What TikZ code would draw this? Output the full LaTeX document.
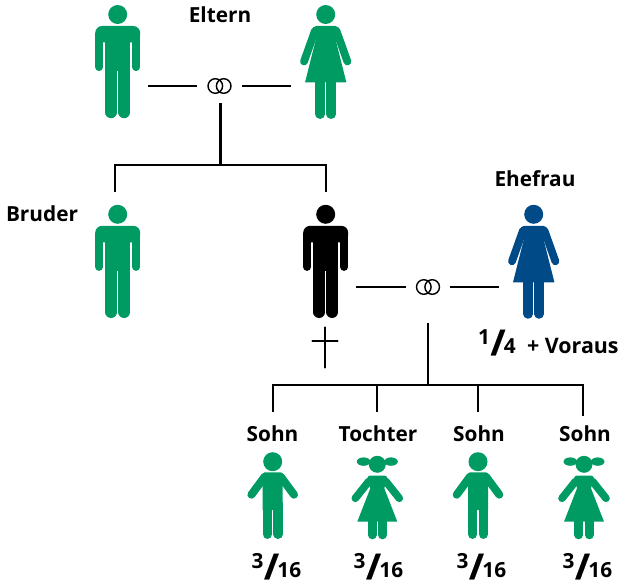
\documentclass[tikz,border=0pt]{standalone}
\usepackage{fontspec}
\setmainfont{Open Sans}[BoldFont={Open Sans Bold}]
\newfontfamily\slashfont{Open Sans}[FakeBold=0.5]
\definecolor{figgreen}{HTML}{009A63}
\definecolor{figblue}{HTML}{004A87}
\tikzset{
  head/.style={circle,draw=none,inner sep=0pt,minimum size=19pt,fill=#1},
  lbl/.style={font=\fontsize{20.8}{22}\selectfont\bfseries,inner sep=0pt,anchor=base,text=black},
  frac/.style={font=\fontsize{20.8}{22}\selectfont\bfseries,inner sep=0pt,anchor=base west,text=black},
  conn/.style={line width=2.3pt,black},
  crossline/.style={line width=2.3pt,black,line cap=round},
  ringline/.style={line width=1.4pt,black},
  rings/.style={inner sep=0pt,minimum width=44pt,minimum height=34pt},
  manfig/.pic={
    \fill[rounded corners=7pt] (-22.5,11.5) rectangle (22.5,28);
    \fill (-12.5,20) rectangle (12.5,56.5);
    \draw[line width=8pt,line cap=round] (-18.5,20) -- (-18.5,52.6);
    \draw[line width=8pt,line cap=round] (18.5,20) -- (18.5,52.6);
    \draw[line width=11.8pt,line cap=round] (-6.6,50) -- (-6.6,97.8);
    \draw[line width=11.8pt,line cap=round] (6.6,50) -- (6.6,97.8);
  },
  womanfig/.pic={
    \fill (-20.7,68) -- (-10,25.5) [rounded corners=5pt] -- (-14.5,11.5) -- (14.5,11.5) [sharp corners] -- (10,25.5) -- (20.7,68) -- cycle;
    \draw[line width=7.8pt,line cap=round] (-10.8,16.5) -- (-21.7,47);
    \draw[line width=7.8pt,line cap=round] (10.8,16.5) -- (21.7,47);
    \draw[line width=9.5pt,line cap=round] (-5.5,60) -- (-5.5,99.7);
    \draw[line width=9.5pt,line cap=round] (5.5,60) -- (5.5,99.7);
  },
  boyfig/.pic={
    \fill (-10,25) [rounded corners=3pt] -- (-10.5,10.6) -- (10.5,10.6) [sharp corners] -- (10,25) -- (10,48.5) -- (-10,48.5) -- cycle;
    \draw[line width=8pt,line cap=round] (-8,15) -- (-21.3,33);
    \draw[line width=8pt,line cap=round] (8,15) -- (21.3,33);
    \draw[line width=9.3pt,line cap=round] (-5.4,42) -- (-5.4,72.6);
    \draw[line width=9.3pt,line cap=round] (5.4,42) -- (5.4,72.6);
  },
  girlfig/.pic={
    \fill (-20,57.4) -- (-7,24) [rounded corners=3pt] -- (-10.5,11.4) -- (10.5,11.4) [sharp corners] -- (7,24) -- (20,57.4) -- cycle;
    \draw[line width=7.6pt,line cap=round] (-8.5,17) -- (-22,34);
    \draw[line width=7.6pt,line cap=round] (8.5,17) -- (22,34);
    \draw[line width=8.8pt,line cap=round] (-5.2,50) -- (-5.2,70.6);
    \draw[line width=8.8pt,line cap=round] (5.2,50) -- (5.2,70.6);
    \fill (-13.7,-2.7) ellipse [x radius=6.8pt,y radius=4.2pt];
    \fill (13.7,-2.7) ellipse [x radius=6.8pt,y radius=4.2pt];
  },
  ringpic/.pic={
    \draw[ringline] (-4.2,0) circle [radius=7.3pt];
    \draw[ringline] (4.2,0) circle [radius=7.3pt];
  },
}
\newcommand{\shr}[2]{\raisebox{9pt}{#1}\kern0.5pt{\slashfont\fontsize{36}{36}\selectfont\raisebox{-2pt}{/}}\kern-1.5pt #2}
\begin{document}
\begin{tikzpicture}[x=1pt,y=-1pt]
\useasboundingbox (0,0) rectangle (618,580);
% heads
\node[head=figgreen] (vater) at (117.7,14.5) {};
\node[head=figgreen] (mutter) at (325.7,14.5) {};
\node[head=figgreen] (bruder) at (117.7,214.3) {};
\node[head=black] (erblasser) at (325.7,214.3) {};
\node[head=figblue] (ehefrau) at (533.7,214.3) {};
\node[head=figgreen] (sohn1) at (272.7,461.7) {};
\node[head=figgreen,minimum size=17pt] (tochter1) at (377.3,464.3) {};
\node[head=figgreen] (sohn2) at (478,461.7) {};
\node[head=figgreen,minimum size=17pt] (tochter2) at (584,464.3) {};
% bodies
\pic[color=figgreen] at (vater) {manfig};
\pic[color=figgreen] at (mutter) {womanfig};
\pic[color=figgreen] at (bruder) {manfig};
\pic[color=black] at (erblasser) {manfig};
\pic[color=figblue] at (ehefrau) {womanfig};
\pic[color=figgreen] at (sohn1) {boyfig};
\pic[color=figgreen] at (tochter1) {girlfig};
\pic[color=figgreen] at (sohn2) {boyfig};
\pic[color=figgreen] at (tochter2) {girlfig};
% rings
\node[rings] (ringsA) at (219.5,86) {};
\node[rings] (ringsB) at (428,287) {};
\pic at (ringsA) {ringpic};
\pic at (ringsB) {ringpic};
% connector ends
\coordinate (vaterEnd) at (148,86);
\coordinate (mutterEnd) at (291,86);
\coordinate (erbEnd) at (356,287);
\coordinate (ehefrauEnd) at (499,287);
\coordinate (jA) at (220.5,165);
\coordinate (jB) at (428,385);
\coordinate (ringsAbot) at (220.5,103);
\coordinate (ringsBbot) at (428,323);
% connectors
\draw[conn] (vaterEnd) -- (ringsA.west);
\draw[conn] (ringsA.east) -- (mutterEnd);
\draw[conn] (erbEnd) -- (ringsB.west);
\draw[conn] (ringsB.east) -- (ehefrauEnd);
\draw[conn] (ringsAbot) -- (jA);
\draw[conn] (ringsBbot) -- (jB);
\draw[conn,shorten >=12.8pt] (jA) -| ([xshift=-2.7pt]bruder.north);
\draw[conn,shorten >=12.8pt] (jA) -| (erblasser.north);
\draw[conn,shorten >=40pt] (jB) -| (sohn1.north);
\draw[conn,shorten >=40pt] (jB) -| (sohn2.north);
\draw[conn,shorten >=40pt] (jB) -| ([xshift=-1pt]tochter2.north);
\draw[conn,shorten >=43.5pt] (jB) -| (tochter1.north);
% cross
\draw[crossline] (325,327.5) -- (325,367.5);
\draw[crossline] (312.5,340.7) -- (337.5,340.7);
% labels
\node[lbl] (tEltern) at (220,22.3) {Eltern};
\node[lbl] (tEhefrau) at (535,186) {Ehefrau};
\node[lbl] (tBruder) at (42,222) {Bruder};
\node[lbl] (tS1) at (272.5,441.7) {Sohn};
\node[lbl] (tT1) at (378,441.7) {Tochter};
\node[lbl] (tS2) at (479,441.7) {Sohn};
\node[lbl] (tS3) at (585,441.7) {Sohn};
% shares
\node[frac] (qE) at (478,353.3) {\shr{1}{4}};
\node[frac,font=\fontsize{21.4}{22}\selectfont\bfseries] (qV) at (527,353.3) {+ Voraus};
\node[frac] (q1) at (251.5,577.3) {\shr{3}{16}};
\node[frac] (q2) at (353.5,577.3) {\shr{3}{16}};
\node[frac] (q3) at (456.5,577.3) {\shr{3}{16}};
\node[frac] (q4) at (562.5,577.3) {\shr{3}{16}};
\end{tikzpicture}
\end{document}
